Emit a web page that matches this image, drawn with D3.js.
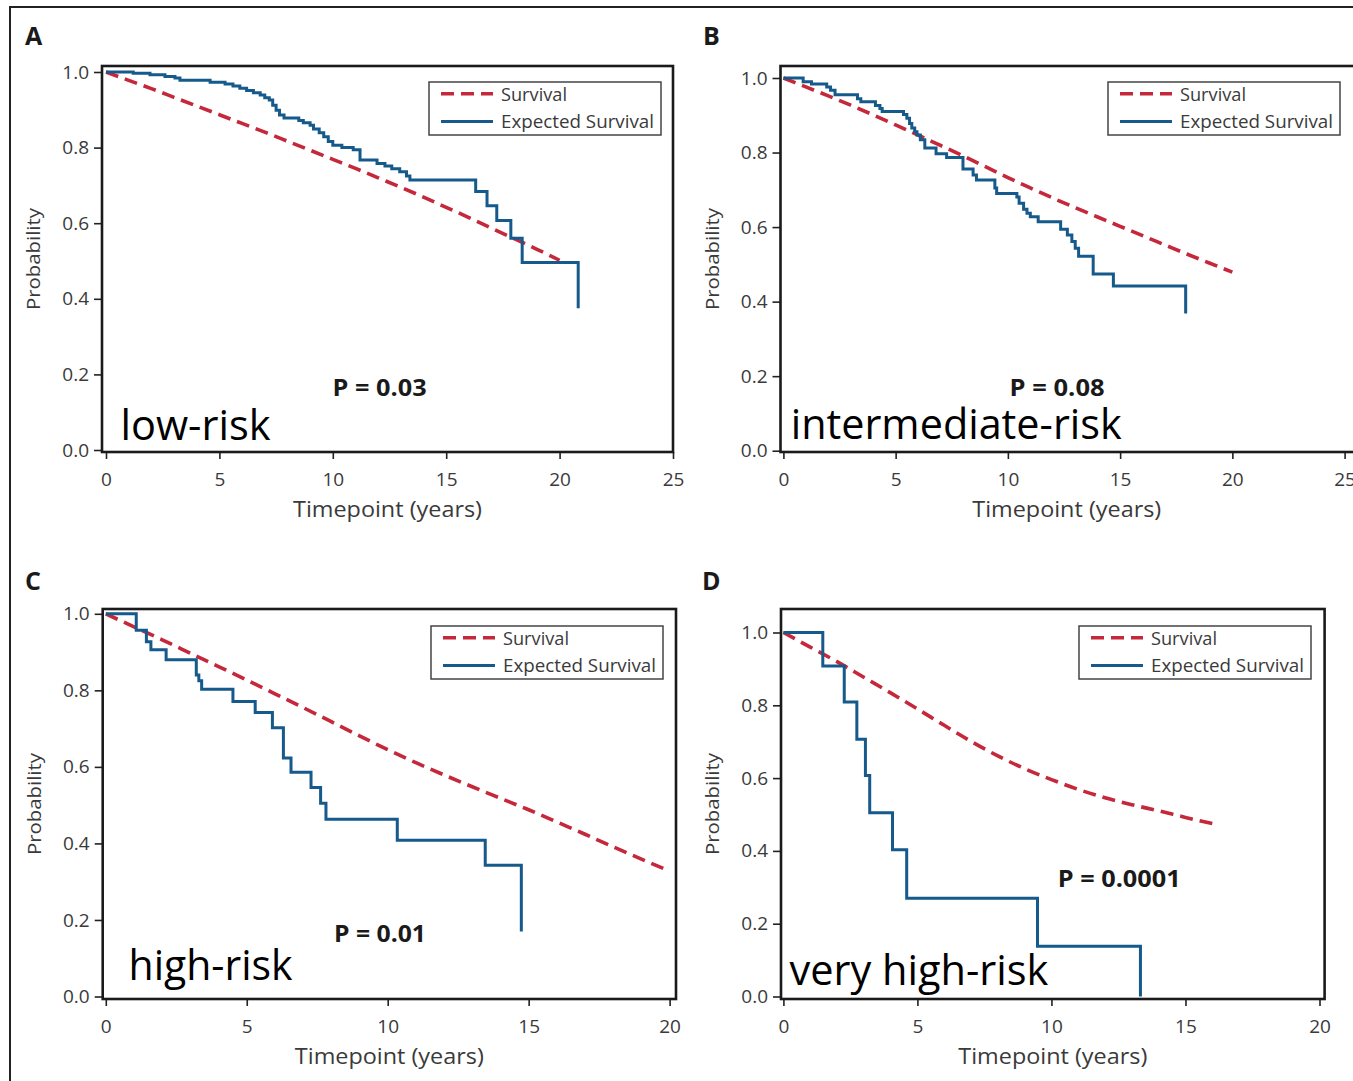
<!DOCTYPE html>
<html>
<head>
<meta charset="utf-8">
<script src="https://cdn.jsdelivr.net/npm/d3@7"></script>
<style>
  html, body { margin: 0; padding: 0; background: #fff; }
  svg { display: block; }
</style>
</head>
<body>
<svg id="chart" width="1353" height="1081"></svg>
<script>
// ---------------- DATA ----------------
const panelLetters = ["A", "B", "C", "D"];
const riskLabels = ["low-risk", "intermediate-risk", "high-risk", "very high-risk"];
const pValueLabels = ["P = 0.03", "P = 0.08", "P = 0.01", "P = 0.0001"];
const legendLabels = ["Survival", "Expected Survival"];
const xAxisTitle = "Timepoint (years)";
const yAxisTitle = "Probability";
const yTicks = [0, 0.2, 0.4, 0.6, 0.8, 1.0];
const xTicks25 = [0, 5, 10, 15, 20, 25];
const xTicks20 = [0, 5, 10, 15, 20];

// "Survival" (red dashed) curves: [years, probability]
const survivalA = [[0,1],[1,0.978],[2,0.956],[3,0.933],[4,0.91],[5,0.887],[6,0.864],[7,0.841],[8,0.817],[9,0.793],[10,0.769],[11,0.745],[12,0.72],[13,0.695],[14,0.669],[15,0.642],[16,0.615],[17,0.587],[18,0.559],[19,0.531],[20,0.502]];
const survivalB = [[0,1],[1,0.976],[2,0.952],[3,0.927],[4,0.901],[5,0.874],[6,0.847],[7,0.819],[8,0.791],[9,0.762],[10,0.733],[11,0.705],[12,0.678],[13,0.652],[14,0.627],[15,0.602],[16,0.577],[17,0.552],[18,0.527],[19,0.503],[20,0.479]];
const survivalC = [[0,1],[1,0.966],[2,0.932],[3,0.897],[4,0.862],[5,0.827],[6,0.791],[7,0.755],[8,0.718],[9,0.681],[10,0.645],[11,0.611],[12,0.579],[13,0.548],[14,0.518],[15,0.488],[16,0.456],[17,0.424],[18,0.391],[19,0.359],[20,0.328]];
const survivalD = [[0,1],[1,0.96],[2,0.92],[3,0.877],[4,0.834],[5,0.79],[6,0.745],[7,0.701],[8,0.661],[9,0.626],[10,0.596],[11,0.569],[12,0.546],[13,0.527],[14,0.51],[15,0.492],[16,0.475]];

// "Expected Survival" (blue step) curves: [years, probability] (step after)
const expectedA = [[0,1],[1.2,0.997],[1.94,0.993],[2.6,0.988],[3.04,0.984],[3.26,0.978],[4.59,0.973],[5.25,0.968],[5.6,0.963],[5.9,0.957],[6.2,0.951],[6.5,0.945],[6.8,0.939],[7.0,0.932],[7.2,0.926],[7.35,0.912],[7.5,0.899],[7.65,0.886],[7.85,0.878],[8.5,0.872],[8.7,0.866],[9.0,0.859],[9.15,0.849],[9.4,0.839],[9.6,0.829],[9.8,0.816],[10.0,0.806],[10.4,0.8],[10.9,0.794],[11.2,0.767],[11.95,0.758],[12.3,0.751],[12.6,0.744],[12.95,0.736],[13.25,0.725],[13.4,0.714],[16.3,0.684],[16.8,0.646],[17.23,0.607],[17.85,0.56],[18.35,0.496],[20.82,0.375]];
const expectedB = [[0,1],[0.88,0.99],[1.25,0.984],[1.93,0.976],[2.1,0.967],[2.3,0.955],[3.3,0.944],[3.45,0.936],[4.1,0.926],[4.3,0.918],[4.4,0.91],[5.35,0.902],[5.5,0.892],[5.62,0.878],[5.72,0.866],[5.85,0.856],[5.95,0.847],[6.1,0.834],[6.3,0.812],[6.8,0.797],[7.27,0.787],[8.0,0.756],[8.45,0.74],[8.6,0.726],[9.42,0.705],[9.5,0.69],[10.4,0.681],[10.5,0.664],[10.7,0.648],[10.85,0.637],[11.0,0.628],[11.35,0.614],[12.35,0.594],[12.65,0.579],[12.85,0.561],[13.0,0.543],[13.15,0.522],[13.8,0.474],[14.7,0.442],[17.92,0.368]];
const expectedC = [[0,1],[1.08,0.957],[1.44,0.927],[1.6,0.906],[2.14,0.88],[3.21,0.84],[3.3,0.825],[3.4,0.803],[4.51,0.771],[5.3,0.742],[5.91,0.702],[6.3,0.623],[6.57,0.586],[7.28,0.546],[7.62,0.505],[7.81,0.463],[10.34,0.408],[13.46,0.343],[14.74,0.17]];
const expectedD = [[0,1],[1.47,0.908],[2.27,0.809],[2.74,0.707],[3.06,0.607],[3.22,0.505],[4.07,0.403],[4.6,0.27],[9.48,0.138],[13.32,0]];

const xMaxValues = [25, 25, 20, 20];

// ---------------- LAYOUT (positions only) ----------------
const layouts = [
  { fl: 102, ft: 66, fr: 673, fb: 452, x0: 106, x1: 673, y1: 72, y0: 450,
    letter: [25, 45], legend: [429, 82], label: [120.5, 439.7, 150], p: [332.6, 395.5, 94] },
  { fl: 780.5, ft: 66, fr: 1357, fb: 452, x0: 783.4, x1: 1344.6, y1: 78, y0: 450.7,
    letter: [703, 45], legend: [1108, 82], label: [790.7, 439, 331], p: [1009.6, 395.5, 95] },
  { fl: 102.7, ft: 609, fr: 676, fb: 999, x0: 105.8, x1: 669.6, y1: 613.8, y0: 996.5,
    letter: [25, 590], legend: [431, 626], label: [128.6, 980, 164], p: [334, 942, 92] },
  { fl: 781, ft: 609, fr: 1324.6, fb: 999, x0: 783.4, x1: 1319.5, y1: 632.5, y0: 996.5,
    letter: [702, 590], legend: [1079, 626], label: [789.4, 985, 259], p: [1057.7, 886.8, 123] }
];

const survivalSeries = [survivalA, survivalB, survivalC, survivalD];
const expectedSeries = [expectedA, expectedB, expectedC, expectedD];
const xTickSets = [xTicks25, xTicks25, xTicks20, xTicks20];

const RED = "#c4283a";
const BLUE = "#16598b";
const FONT = "'Open Sans', 'Noto Sans', sans-serif";

const svg = d3.select("#chart");

// outer figure border (top and left visible)
svg.append("path")
  .attr("d", "M10,1081 V7 H1353")
  .attr("fill", "none").attr("stroke", "#222").attr("stroke-width", 2);

layouts.forEach((L, i) => {
  const g = svg.append("g");
  const x = d3.scaleLinear().domain([0, xMaxValues[i]]).range([L.x0, L.x1]);
  const y = d3.scaleLinear().domain([0, 1]).range([L.y0, L.y1]);

  // panel letter
  g.append("text").attr("x", L.letter[0]).attr("y", L.letter[1])
    .attr("font-family", FONT).attr("font-weight", 700).attr("font-size", 25)
    .attr("fill", "#1a1a1a").text(panelLetters[i]);

  // y axis
  const ya = g.append("g").attr("transform", `translate(${L.fl},0)`)
    .call(d3.axisLeft(y).tickValues(yTicks).tickSize(8).tickPadding(5).tickFormat(d3.format(".1f")));
  ya.select(".domain").remove();
  ya.selectAll("line").attr("stroke", "#222").attr("stroke-width", 1.6);
  ya.selectAll("text").attr("font-family", FONT).attr("font-size", 19).attr("fill", "#3a3a3a");

  // x axis
  const xa = g.append("g").attr("transform", `translate(0,${L.fb})`)
    .call(d3.axisBottom(x).tickValues(xTickSets[i]).tickSize(7).tickPadding(13.5).tickFormat(d3.format("d")));
  xa.select(".domain").remove();
  xa.selectAll("line").attr("stroke", "#222").attr("stroke-width", 1.6);
  xa.selectAll("text").attr("font-family", FONT).attr("font-size", 19).attr("fill", "#3a3a3a");

  // axis titles
  g.append("text")
    .attr("x", (L.fl + Math.min(L.fr, 1353)) / 2).attr("y", L.fb + 65)
    .attr("text-anchor", "middle").attr("font-family", FONT).attr("font-size", 21)
    .attr("fill", "#3a3a3a").attr("textLength", 189).attr("lengthAdjust", "spacingAndGlyphs")
    .text(xAxisTitle);
  g.append("text")
    .attr("transform", `translate(${L.fl - 62},${(L.ft + L.fb) / 2}) rotate(-90)`)
    .attr("text-anchor", "middle").attr("font-family", FONT).attr("font-size", 19)
    .attr("fill", "#3a3a3a").attr("textLength", 102).attr("lengthAdjust", "spacingAndGlyphs")
    .text(yAxisTitle);

  // curves
  const redLine = d3.line().x(d => x(d[0])).y(d => y(d[1])).curve(d3.curveMonotoneX);
  const blueLine = d3.line().x(d => x(d[0])).y(d => y(d[1])).curve(d3.curveStepAfter);

  g.append("path").datum(survivalSeries[i]).attr("d", redLine)
    .attr("fill", "none").attr("stroke", RED).attr("stroke-width", 3.6)
    .attr("stroke-dasharray", "13,7");
  g.append("path").datum(expectedSeries[i]).attr("d", blueLine)
    .attr("fill", "none").attr("stroke", BLUE).attr("stroke-width", 3);

  // frame
  g.append("rect").attr("x", L.fl).attr("y", L.ft)
    .attr("width", L.fr - L.fl).attr("height", L.fb - L.ft)
    .attr("fill", "none").attr("stroke", "#1a1a1a").attr("stroke-width", 2.6);

  // legend
  const lg = g.append("g").attr("transform", `translate(${L.legend[0]},${L.legend[1]})`);
  lg.append("rect").attr("width", 232).attr("height", 53)
    .attr("fill", "#fff").attr("stroke", "#444").attr("stroke-width", 1.5);
  [RED, BLUE].forEach((c, k) => {
    const ly = 11.8 + k * 27.6;
    lg.append("line").attr("x1", 12).attr("x2", 64).attr("y1", ly).attr("y2", ly)
      .attr("stroke", c).attr("stroke-width", k === 0 ? 3.6 : 3)
      .attr("stroke-dasharray", k === 0 ? "13,7" : null);
    lg.append("text").attr("x", 72).attr("y", ly + 6.9)
      .attr("font-family", FONT).attr("font-size", 18.5).attr("fill", "#3a3a3a")
      .attr("textLength", k === 0 ? 66 : 153).attr("lengthAdjust", "spacingAndGlyphs")
      .text(legendLabels[k]);
  });

  // P value
  g.append("text").attr("x", L.p[0]).attr("y", L.p[1])
    .attr("font-family", FONT).attr("font-weight", 700).attr("font-size", 23)
    .attr("fill", "#1a1a1a").attr("textLength", L.p[2]).attr("lengthAdjust", "spacingAndGlyphs")
    .text(pValueLabels[i]);

  // risk label
  g.append("text").attr("x", L.label[0]).attr("y", L.label[1])
    .attr("font-family", FONT).attr("font-size", 42)
    .attr("fill", "#000").attr("textLength", L.label[2]).attr("lengthAdjust", "spacingAndGlyphs")
    .text(riskLabels[i]);
});
</script>
</body>
</html>
